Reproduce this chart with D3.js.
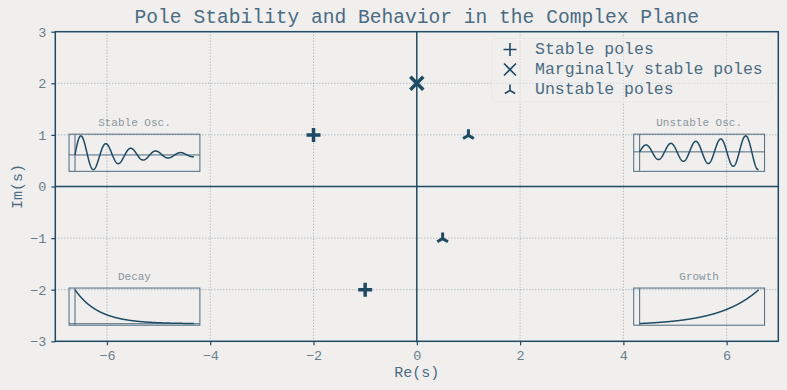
<!DOCTYPE html>
<html>
<head>
<meta charset="utf-8">
<script src="https://cdn.jsdelivr.net/npm/d3@7"></script>
<style>
  html, body { margin: 0; padding: 0; background: #f0efed; }
  svg { display: block; }
  text { font-family: "Liberation Mono", "Courier New", monospace; }
</style>
</head>
<body>
<svg id="chart" width="787" height="390"></svg>
<script>
// ---------------- data ----------------
const stableRe = [-2, -1];
const stableIm = [1, -2];
const marginalRe = [0];
const marginalIm = [2];
const unstableRe = [1, 0.5];
const unstableIm = [1, -1];

const xTicks = [-6, -4, -2, 0, 2, 4, 6];
const yTicks = [-3, -2, -1, 0, 1, 2, 3];
const legendLabels = ["Stable poles", "Marginally stable poles", "Unstable poles"];

// inset illustrations (time response shape parameters)
const insetLabels = ["Stable Osc.", "Unstable Osc.", "Decay", "Growth"];
const insetRates = [-0.25, 0.1, -0.5, 0.3];   // exponential rate
const insetFreqs = [3, 3, 0, 0];              // angular frequency (0 = pure exponential)
const insetTmax = 10;

// ---------------- layout ----------------
const W = 787, H = 390;
const M = { left: 55.3, right: 778.3, top: 31.7, bottom: 341.3 };
const dark = "#1e4a64";
const insetCol = "#4e6a7e";
const svg = d3.select("#chart");

const x = d3.scaleLinear().domain([-7, 7]).range([M.left, M.right]);
const y = d3.scaleLinear().domain([-3, 3]).range([M.bottom, M.top]);
const fmt = d => (d < 0 ? "\u2212" + Math.abs(d) : String(d));

// grid
const grid = svg.append("g").attr("stroke", "#7f95a5").attr("stroke-width", 0.8)
  .attr("stroke-dasharray", "1,2");
grid.selectAll("line.gx").data(xTicks.filter(d => d !== 0)).join("line")
  .attr("x1", d => x(d)).attr("x2", d => x(d)).attr("y1", M.top).attr("y2", M.bottom);
grid.selectAll("line.gy").data(yTicks.filter(d => d !== 0 && Math.abs(d) !== 3)).join("line")
  .attr("y1", d => y(d)).attr("y2", d => y(d)).attr("x1", M.left).attr("x2", M.right);

// zero lines
svg.append("line").attr("x1", M.left).attr("x2", M.right).attr("y1", y(0)).attr("y2", y(0))
  .attr("stroke", dark).attr("stroke-width", 1.5);
svg.append("line").attr("x1", x(0)).attr("x2", x(0)).attr("y1", M.top).attr("y2", M.bottom)
  .attr("stroke", dark).attr("stroke-width", 1.5);

// frame
svg.append("rect").attr("x", M.left).attr("y", M.top)
  .attr("width", M.right - M.left).attr("height", M.bottom - M.top)
  .attr("fill", "none").attr("stroke", dark).attr("stroke-width", 1.5);

// axes
const xAxis = svg.append("g").attr("transform", `translate(0,${M.bottom})`)
  .call(d3.axisBottom(x).tickValues(xTicks).tickFormat(fmt).tickSize(4).tickPadding(5));
const yAxis = svg.append("g").attr("transform", `translate(${M.left},0)`)
  .call(d3.axisLeft(y).tickValues(yTicks).tickFormat(fmt).tickSize(4).tickPadding(5));
[xAxis, yAxis].forEach(g => {
  g.select(".domain").remove();
  g.selectAll(".tick line").attr("stroke", dark).attr("stroke-width", 1.2);
  g.selectAll(".tick text").attr("fill", "#6a7d8b").style("font-size", "13.5px")
    .style("font-family", "'Liberation Mono', monospace");
});

// title & labels
svg.append("text").attr("x", (M.left + M.right) / 2).attr("y", 23).attr("text-anchor", "middle")
  .attr("fill", "#4b6b83").style("font-size", "19.6px")
  .text("Pole Stability and Behavior in the Complex Plane");
svg.append("text").attr("x", (M.left + M.right) / 2).attr("y", 377).attr("text-anchor", "middle")
  .attr("fill", "#4b6b83").style("font-size", "15px").text("Re(s)");
svg.append("text").attr("transform", `translate(22,${(M.top + M.bottom) / 2}) rotate(-90)`)
  .attr("text-anchor", "middle").attr("fill", "#4b6b83").style("font-size", "15px").text("Im(s)");

// insets (axes-fraction placement like inset axes)
const insetPos = [[0.019, 0.549], [0.80, 0.549], [0.019, 0.052], [0.80, 0.052]];
const insetW = 0.181, insetH = 0.12;
const PW = M.right - M.left, PH = M.bottom - M.top;
const tSamples = d3.range(0, insetTmax + 1e-9, 0.02);

insetLabels.forEach((lab, i) => {
  const bx0 = M.left + insetPos[i][0] * PW;
  const bx1 = bx0 + insetW * PW;
  const by1 = M.bottom - insetPos[i][1] * PH;
  const by0 = by1 - insetH * PH;
  const rate = insetRates[i], w = insetFreqs[i];
  const vals = tSamples.map(t => w ? Math.exp(rate * t) * Math.sin(w * t) : Math.exp(rate * t));
  const [vmin, vmax] = d3.extent(vals);
  const my = (vmax - vmin) * 0.05, mx = insetTmax * 0.05;
  const ix = d3.scaleLinear().domain([-mx, insetTmax + mx]).range([bx0, bx1]);
  const iy = d3.scaleLinear().domain([vmin - my, vmax + my]).range([by1, by0]);
  const g = svg.append("g");
  const cid = "clip" + i;
  g.append("clipPath").attr("id", cid).append("rect")
    .attr("x", bx0).attr("y", by0).attr("width", bx1 - bx0).attr("height", by1 - by0);
  const gc = g.append("g").attr("clip-path", `url(#${cid})`);
  if (vmin - my < 0 && vmax + my > 0) {
    gc.append("line").attr("x1", bx0).attr("x2", bx1).attr("y1", iy(0)).attr("y2", iy(0))
      .attr("stroke", insetCol).attr("stroke-width", 1);
  }
  gc.append("line").attr("x1", ix(0)).attr("x2", ix(0)).attr("y1", by0).attr("y2", by1)
    .attr("stroke", insetCol).attr("stroke-width", 1);
  gc.append("path").datum(tSamples.map((t, k) => [t, vals[k]]))
    .attr("d", d3.line().x(d => ix(d[0])).y(d => iy(d[1])))
    .attr("fill", "none").attr("stroke", dark).attr("stroke-width", 1.5);
  g.append("rect").attr("x", bx0).attr("y", by0).attr("width", bx1 - bx0).attr("height", by1 - by0)
    .attr("fill", "none").attr("stroke", insetCol).attr("stroke-width", 1);
  g.append("text").attr("x", (bx0 + bx1) / 2).attr("y", by0 - 8.5).attr("text-anchor", "middle")
    .attr("fill", "#8a959c").style("font-size", "11px").text(lab);
});

// marker shapes
const plusPath = s => `M${-s},0H${s}M0,${-s}V${s}`;
const xPath = s => `M${-s},${-s}L${s},${s}M${-s},${s}L${s},${-s}`;
const triPath = s => `M0,0V${-s}M0,0L${-s * 0.866},${s * 0.5}M0,0L${s * 0.866},${s * 0.5}`;

const markers = svg.append("g").attr("fill", "none").attr("stroke", dark);
markers.selectAll("path.st").data(stableRe.map((r, i) => [r, stableIm[i]])).join("path")
  .attr("transform", d => `translate(${x(d[0])},${y(d[1])})`)
  .attr("d", plusPath(7)).attr("stroke-width", 3.5);
markers.selectAll("path.mg").data(marginalRe.map((r, i) => [r, marginalIm[i]])).join("path")
  .attr("transform", d => `translate(${x(d[0])},${y(d[1])})`)
  .attr("d", xPath(6.5)).attr("stroke-width", 3.5);
markers.selectAll("path.un").data(unstableRe.map((r, i) => [r, unstableIm[i]])).join("path")
  .attr("transform", d => `translate(${x(d[0])},${y(d[1]) + 0.5})`)
  .attr("d", triPath(6.2)).attr("stroke-width", 3);

// legend
const leg = svg.append("g");
leg.append("rect").attr("x", 491.7).attr("y", 38.3).attr("width", 280).attr("height", 63.4)
  .attr("rx", 3).attr("fill", "#f0efed").attr("fill-opacity", 0.5)
  .attr("stroke", "#e9e9e7").attr("stroke-width", 1);
const legShapes = [plusPath(6.5), xPath(6), triPath(6)];
legendLabels.forEach((lab, i) => {
  const cy = 49.5 + i * 20;
  leg.append("path").attr("transform", `translate(510,${cy + (i === 2 ? 1 : 0)})`)
    .attr("d", legShapes[i]).attr("fill", "none").attr("stroke", dark).attr("stroke-width", 1.6);
  leg.append("text").attr("x", 535).attr("y", cy + 4.8).attr("fill", "#4b6b83")
    .style("font-size", "16.5px").text(lab);
});
</script>
</body>
</html>
